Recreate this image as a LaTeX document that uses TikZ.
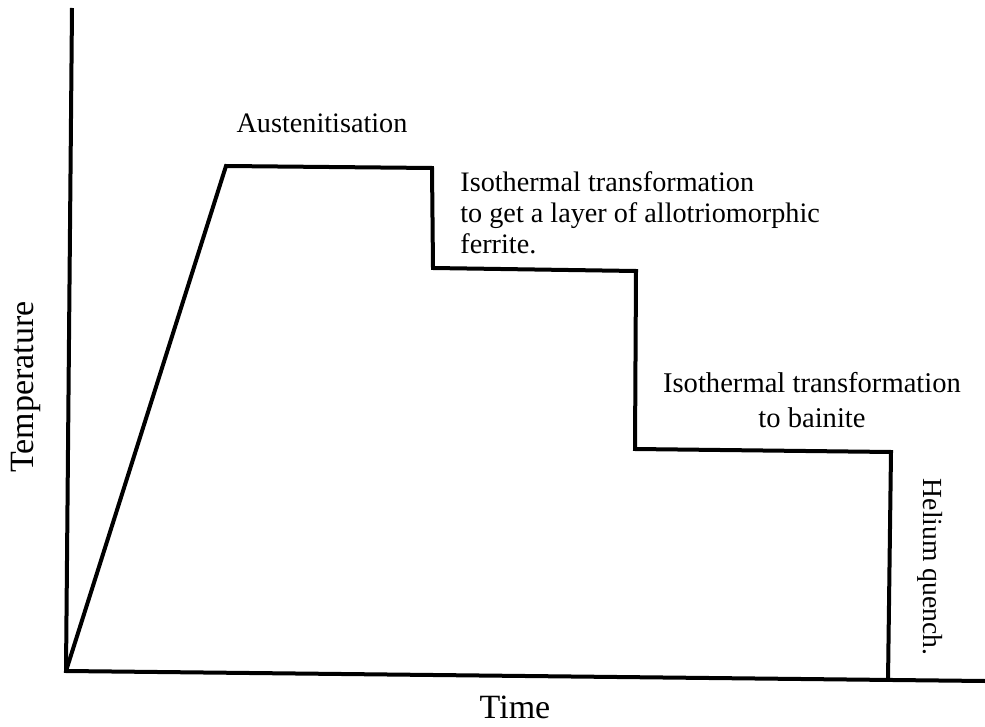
\documentclass[tikz,border=0pt]{standalone}
\usepackage{fontspec}
\setmainfont{Liberation Serif}
\usepackage{tikz}

\begin{document}
\begin{tikzpicture}[x=0.5pt,y=-0.5pt]

        \tikzstyle{profile}=[line width=2pt,line join=miter]
        \tikzstyle{stagelabel}=[inner sep=0pt,font=\fontsize{14.1}{15.5}\selectfont]
        \tikzstyle{axislabel}=[inner sep=0pt,font=\fontsize{17}{20}\selectfont]

        \useasboundingbox (0,0) rectangle (985,727);

        %% Axes
        \coordinate (origin) at (66,671);
        \coordinate (tmax) at (72,8);
        \coordinate (xend) at (985,681);
        \draw[profile] (tmax) -- (origin) -- (xend);

        %% Heat treatment path
        \coordinate (heat) at (226,166);
        \coordinate (aend) at (432,168);
        \coordinate (fstart) at (433,268);
        \coordinate (fend) at (636,271);
        \coordinate (bstart) at (635,449);
        \coordinate (bend) at (891,452);
        \coordinate (quench) at (888,681);
        \draw[profile] (origin) -- (heat) -- (aend) -- (fstart) -- (fend)
            -- (bstart) -- (bend) -- (quench);

        %% Labels
        \node[stagelabel,anchor=base] (aust) at (322,133) {Austenitisation};
        \node[stagelabel,anchor=north west,align=left] (ferrite) at (460,171)
            {Isothermal transformation\\to get a layer of allotriomorphic\\ferrite.};
        \node[stagelabel,anchor=north,align=center,font=\fontsize{14.3}{17.5}\selectfont] (bainite) at (812,372)
            {Isothermal transformation\\to bainite};
        \node[stagelabel,anchor=base,rotate=-90,font=\fontsize{13.8}{16}\selectfont] (helium) at (923,567) {Helium quench.};
        % \node[stagelabel] at (900,700) {};

        \node[axislabel,anchor=base] (time) at (515,718) {Time};
        \node[axislabel,anchor=base,rotate=90] (temp) at (33,387) {Temperature};

    \end{tikzpicture}
\end{document}
